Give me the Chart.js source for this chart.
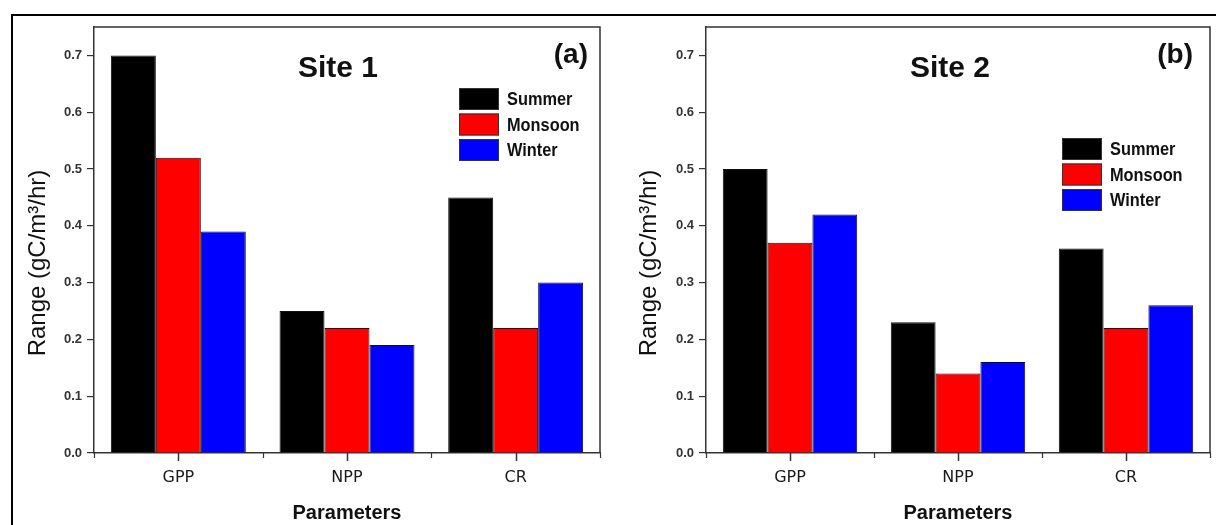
<!DOCTYPE html>
<html>
<head>
<meta charset="utf-8">
<script src="https://cdn.jsdelivr.net/npm/chart.js@4.4.1/dist/chart.umd.min.js"></script>
<style>
  html, body { margin: 0; padding: 0; background: #fff; }
  #wrap { position: relative; width: 1216px; height: 525px; overflow: hidden; }
  #frame { position: absolute; left: 11px; top: 14px; width: 1220px; height: 520px;
           border-top: 2px solid #000; border-left: 2px solid #000; }
  canvas { position: absolute; top: 0; }
  #c1 { left: 0; }
  #c2 { left: 606px; }
</style>
</head>
<body>
<div id="wrap">
  <div id="frame"></div>
  <canvas id="c1" width="606" height="525"></canvas>
  <canvas id="c2" width="610" height="525"></canvas>
</div>
<script>
/* ---- data ---- */
const PARAMS = ['GPP', 'NPP', 'CR'];
const SEASONS = ['Summer', 'Monsoon', 'Winter'];
const SEASON_COLORS = ['#000000', '#ff0000', '#0000ff'];

const SITE1_SUMMER  = [0.70, 0.25, 0.45];
const SITE1_MONSOON = [0.52, 0.22, 0.22];
const SITE1_WINTER  = [0.39, 0.19, 0.30];

const SITE2_SUMMER  = [0.50, 0.23, 0.36];
const SITE2_MONSOON = [0.37, 0.14, 0.22];
const SITE2_WINTER  = [0.42, 0.16, 0.26];

const Y_MIN = 0, Y_MAX = 0.75, Y_STEP = 0.1;

const AXIS_COLOR = '#333';
const SANS = 'Arial, "Liberation Sans", sans-serif';

/* ---- little plugin: box, x ticks, y title, panel titles, legend ---- */
const decorPlugin = {
    id: 'decor',
    afterDatasetsDraw(chart, args, opts) {
        const { ctx, chartArea: a, scales: { x } } = chart;
        ctx.save();
        // top + right of the plot box
        ctx.strokeStyle = AXIS_COLOR; ctx.lineWidth = 1.5;
        ctx.beginPath();
        ctx.moveTo(a.left, a.top); ctx.lineTo(a.right, a.top); ctx.lineTo(a.right, a.bottom);
        ctx.stroke();
        // long ticks under each category, short ones between
        for (let i = 0; i < PARAMS.length; i++) {
            const px = Math.round(x.getPixelForValue(i)) + 0.5;
            ctx.beginPath(); ctx.moveTo(px, a.bottom); ctx.lineTo(px, a.bottom + 8); ctx.stroke();
        }
        ctx.lineWidth = 1.2;
        for (let i = 0; i <= PARAMS.length; i++) {
            const px = Math.round(x.getPixelForValue(i - 0.5)) + 0.5;
            ctx.beginPath(); ctx.moveTo(px, a.bottom); ctx.lineTo(px, a.bottom + 5); ctx.stroke();
        }
        // y axis title
        ctx.fillStyle = '#111';
        ctx.font = '24px ' + SANS;
        ctx.textAlign = 'center'; ctx.textBaseline = 'middle';
        ctx.translate(a.left - opts.yTitleDx, (a.top + a.bottom) / 2 + 23);
        ctx.rotate(-Math.PI / 2);
        ctx.fillText('Range (gC/m³/hr)', 0, 0);
        ctx.restore();

        ctx.save();
        ctx.fillStyle = '#111';
        ctx.textBaseline = 'alphabetic';
        ctx.font = 'bold 30px ' + SANS;
        ctx.textAlign = 'center';
        ctx.fillText(opts.title, a.left + 244, a.top + 50);
        ctx.font = 'bold 28px ' + SANS;
        ctx.textAlign = 'right';
        ctx.fillText(opts.tag, a.right - opts.tagDx, a.top + 36);

        // legend (narrowed bold sans, like the original)
        let ly = a.top + opts.legendDy;
        const lx = a.left + opts.legendDx;
        chart.data.datasets.forEach(ds => {
            ctx.fillStyle = ds.backgroundColor;
            ctx.fillRect(lx, ly, 40, 22);
            ctx.strokeStyle = '#333'; ctx.lineWidth = 1;
            ctx.strokeRect(lx + 0.5, ly + 0.5, 39, 21);
            ctx.save();
            ctx.translate(lx + 48, ly + 12);
            ctx.scale(0.86, 1);
            ctx.fillStyle = '#111';
            ctx.font = 'bold 19px ' + SANS;
            ctx.textAlign = 'left'; ctx.textBaseline = 'middle';
            ctx.fillText(ds.label, 0, 0);
            ctx.restore();
            ly += 25.5;
        });
        ctx.restore();
    }
};

function makeSite(id, series, yWidth, padRight, decor) {
    const datasets = SEASONS.map((s, i) => ({
        label: s,
        data: series[i],
        backgroundColor: SEASON_COLORS[i],
        borderColor: '#111',
        borderWidth: 1,
        barPercentage: 1.0,
        categoryPercentage: 0.8
    }));
    return new Chart(document.getElementById(id), {
        type: 'bar',
        data: { labels: PARAMS, datasets },
        plugins: [decorPlugin],
        options: {
            responsive: false, animation: false, devicePixelRatio: 1,
            layout: { padding: { top: 27, right: padRight, left: 0, bottom: 0 } },
            plugins: { legend: { display: false }, tooltip: { enabled: false }, decor },
            scales: {
                x: {
                    afterFit(s) { s.height = 72; },
                    grid: { display: false, tickLength: 8 },
                    border: { display: true, color: AXIS_COLOR, width: 1.5 },
                    ticks: { color: '#1a1a1a', padding: 7, font: { family: '"DejaVu Sans", Verdana, sans-serif', size: 16 } },
                    title: { display: true, text: 'Parameters', color: '#111', padding: { top: 0, bottom: 0 },
                             font: { family: SANS, size: 20, weight: 'bold' } }
                },
                y: {
                    min: Y_MIN, max: Y_MAX,
                    afterFit(s) { s.width = yWidth; },
                    grid: { drawOnChartArea: false, tickLength: 7, color: AXIS_COLOR, lineWidth: 1.2 },
                    border: { color: AXIS_COLOR, width: 1.5 },
                    ticks: { stepSize: Y_STEP, includeBounds: false, color: '#333', padding: 5,
                             font: { family: SANS, size: 13, weight: 'bold' },
                             callback: v => v.toFixed(1) }
                }
            }
        }
    });
}

makeSite('c1', [SITE1_SUMMER, SITE1_MONSOON, SITE1_WINTER], 94, 6,
    { title: 'Site 1', tag: '(a)', tagDx: 12, legendDx: 365, legendDy: 61, yTitleDx: 56 });
makeSite('c2', [SITE2_SUMMER, SITE2_MONSOON, SITE2_WINTER], 100, 6,
    { title: 'Site 2', tag: '(b)', tagDx: 17, legendDx: 356, legendDy: 111, yTitleDx: 57 });
</script>
</body>
</html>
